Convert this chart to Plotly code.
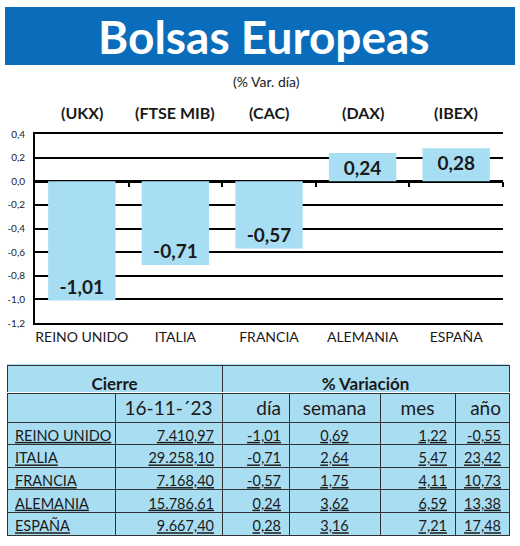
import plotly.graph_objects as go

# ---------------- data ----------------
paises = ["REINO UNIDO", "ITALIA", "FRANCIA", "ALEMANIA", "ESPAÑA"]
indices = ["(UKX)", "(FTSE MIB)", "(CAC)", "(DAX)", "(IBEX)"]
var_dia = [-1.01, -0.71, -0.57, 0.24, 0.28]
cierre = [7410.97, 29258.10, 7168.40, 15786.61, 9667.40]
var_semana = [0.69, 2.64, 1.75, 3.62, 3.16]
var_mes = [1.22, 5.47, 4.11, 6.59, 7.21]
var_anio = [-0.55, 23.42, 10.73, 13.38, 17.48]
fecha = "16-11-´23"
y_ticks = [-1.2, -1.0, -0.8, -0.6, -0.4, -0.2, 0.0, 0.2, 0.4]

# ---------------- helpers ----------------
W, H = 520, 546
FONT = "Lato, Roboto, sans-serif"
BAR_BLUE = "#a8def3"
TABLE_BLUE = "#a9ddf2"
BANNER_BLUE = "#0a6dbb"
INK = "#1a1a1a"


def es(v, d=2):
    return f"{v:.{d}f}".replace(".", ",")


def es_miles(v):
    s = f"{v:,.2f}"
    return s.replace(",", "X").replace(".", ",").replace("X", ".")


def px(x):
    return x / W


def py(y):
    return (H - y) / H


fig = go.Figure()

fig.add_trace(go.Bar(
    x=paises, y=var_dia,
    marker=dict(color=BAR_BLUE, line=dict(width=0)),
    text=[es(v) for v in var_dia], texttemplate="%{text}",
    textposition="inside", insidetextanchor="end", textangle=0,
    textfont=dict(family=FONT, size=19, color=INK, weight="bold"),
    constraintext="none", hoverinfo="skip", showlegend=False,
))

# helper trace so the zero-line tick axis (x2) is drawn
fig.add_trace(go.Scatter(x=[], y=[], xaxis="x2", yaxis="y", mode="markers",
                         hoverinfo="skip", showlegend=False))

# main table (non-breaking spaces keep country names on one line)
fig.add_trace(go.Table(
    domain=dict(x=[px(7), px(509)], y=[py(541), py(393)]),
    columnwidth=[108, 107, 67, 91, 75, 54],
    header=dict(values=["", fecha, "día", "semana", "mes", "año"],
                height=29, align=["left", "center", "right", "center", "center", "right"],
                fill_color=TABLE_BLUE, line=dict(color="#333333", width=1),
                font=dict(family=FONT, size=19, color=INK)),
    cells=dict(values=[[p.replace(" ", "\u00a0") for p in paises],
                       [es_miles(v) for v in cierre],
                       [es(v) for v in var_dia],
                       [es(v) for v in var_semana],
                       [es(v) for v in var_mes],
                       [es(v) for v in var_anio]],
               height=22.6, align=["left", "right", "right", "center", "right", "right"],
               fill_color=TABLE_BLUE, line=dict(color="#333333", width=1),
               font=dict(family=FONT, size=14.5, color=INK, lineposition="under")),
))

# top band of the table (group titles)
fig.add_trace(go.Table(
    domain=dict(x=[px(7), px(509)], y=[py(393), py(364)]),
    columnwidth=[215, 287],
    header=dict(values=[""], height=1, fill_color=TABLE_BLUE,
                line=dict(color=TABLE_BLUE, width=0)),
    cells=dict(values=[["<b>Cierre</b>"], ["<b>% Variación</b>"]],
               height=28, align="center", fill_color=TABLE_BLUE,
               line=dict(color="#333333", width=1),
               font=dict(family=FONT, size=17, color=INK)),
))

y0, y1 = py(323), py(134)
zero_pos = y0 + (0 - (-1.2)) / 1.6 * (y1 - y0)

fig.update_layout(
    width=W, height=H,
    margin=dict(l=0, r=0, t=0, b=0),
    paper_bgcolor="white", plot_bgcolor="white",
    separators=",.",
    bargap=0.28,
    showlegend=False,
    xaxis=dict(domain=[px(35), px(503)], showgrid=False, showline=True, mirror=True,
               linecolor="black", linewidth=1.5, ticks="", ticklen=0, automargin=False,
               tickfont=dict(family=FONT, size=14, color=INK),
               ticklabelstandoff=0, fixedrange=True),
    xaxis2=dict(overlaying="x", anchor="free", position=zero_pos, range=[-0.5, 4.5],
                tickvals=[0.5, 1.5, 2.5, 3.5, 4.5], ticks="outside", ticklen=5,
                tickwidth=2, tickcolor="black", showticklabels=False, showgrid=False,
                zeroline=False, showline=False, automargin=False, fixedrange=True),
    yaxis=dict(domain=[y0, y1], range=[-1.2, 0.4], tickvals=y_ticks,
               ticktext=[es(v, 1) for v in y_ticks],
               showgrid=True, gridcolor="black", gridwidth=1.5,
               zeroline=True, zerolinecolor="black", zerolinewidth=3,
               showline=True, linecolor="black", linewidth=2, ticks="",
               tickfont=dict(family=FONT, size=10, color="#222"),
               ticklabelstandoff=6, automargin=False, fixedrange=True),
    shapes=[dict(type="rect", xref="paper", yref="paper",
                 x0=px(5), x1=px(515), y0=py(65), y1=py(7),
                 fillcolor=BANNER_BLUE, line=dict(width=0), layer="below")],
)

fig.add_annotation(text="<b>Bolsas Europeas</b>", xref="paper", yref="paper",
                   x=px(264), y=py(37), showarrow=False, xanchor="center", yanchor="middle",
                   font=dict(family=FONT, size=46, color="white"))
fig.add_annotation(text="(% Var. día)", xref="paper", yref="paper",
                   x=px(266), y=py(81), showarrow=False, xanchor="center", yanchor="middle",
                   font=dict(family=FONT, size=14, color=INK))
for p, idx in zip(paises, indices):
    fig.add_annotation(text=f"<b>{idx}</b>", xref="x", yref="paper", x=p, y=py(112),
                       showarrow=False, xanchor="center", yanchor="middle",
                       font=dict(family=FONT, size=16, color=INK))

fig.write_html("out.html", config={"displayModeBar": False},
               post_script="document.body.style.margin='0px';")
